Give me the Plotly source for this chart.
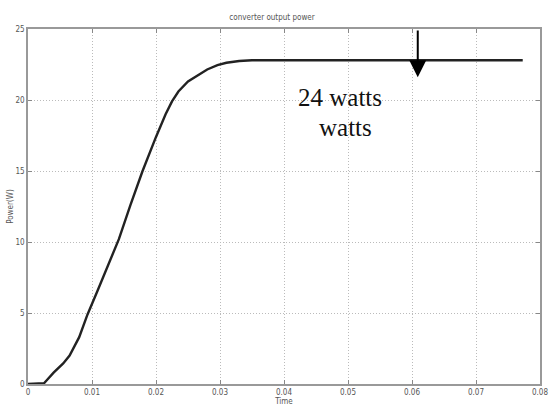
import plotly.graph_objects as go

# Data
time_s = [0, 0.001, 0.002, 0.0025, 0.003, 0.004, 0.0055, 0.0065, 0.008, 0.0093, 0.0108,
          0.0125, 0.0142, 0.016, 0.0179, 0.02, 0.0215, 0.0225, 0.0235, 0.025,
          0.0265, 0.028, 0.0296, 0.031, 0.033, 0.035, 0.04, 0.05, 0.06, 0.07, 0.0773]
power_w = [0, 0, 0, 0.05, 0.3, 0.8, 1.45, 2.0, 3.3, 4.9, 6.5,
           8.3, 10.2, 12.6, 15.0, 17.4, 19.0, 19.9, 20.6, 21.3,
           21.75, 22.15, 22.45, 22.62, 22.75, 22.8, 22.8, 22.8, 22.8, 22.8, 22.8]

x_ticks = [0, 0.01, 0.02, 0.03, 0.04, 0.05, 0.06, 0.07, 0.08]
x_tick_labels = ["0", "0.01", "0.02", "0.03", "0.04", "0.05", "0.06", "0.07", "0.08"]
y_ticks = [0, 5, 10, 15, 20, 25]

arrow_x = 0.0609
arrow_top = 25
arrow_tip = 21.6
label_lines = ["24 watts", "watts"]
label_pos = [(0.0488, 20.15), (0.0496, 18.05)]

small_font = dict(family="Liberation Sans Narrow, DejaVu Sans Condensed, Arial Narrow, sans-serif",
                  size=8, color="#555")

fig = go.Figure()
fig.add_trace(go.Scatter(x=time_s, y=power_w, mode="lines",
                         line=dict(color="#222", width=2.4),
                         showlegend=False, hoverinfo="skip"))

axis_common = dict(showline=True, linecolor="#999", linewidth=1.5, mirror="ticks",
                   ticks="inside", ticklen=4, tickcolor="#888",
                   showgrid=True, gridcolor="#bbbbbb", griddash="1px,2px", gridwidth=1,
                   zeroline=False, tickfont=small_font)

fig.update_xaxes(range=[0, 0.08], tickvals=x_ticks, ticktext=x_tick_labels,
                 ticklabeloverflow="allow",
                 title=dict(text="Time", font=small_font, standoff=2), **axis_common)
fig.update_yaxes(range=[0, 25], tickvals=y_ticks,
                 title=dict(text="Power(W)", font=small_font, standoff=1), **axis_common)

for txt, (tx, ty) in zip(label_lines, label_pos):
    fig.add_annotation(x=tx, y=ty, text=txt, showarrow=False,
                       font=dict(family="Liberation Serif, Times New Roman, serif",
                                 size=25, color="#111"),
                       xanchor="center", yanchor="middle")

fig.add_annotation(x=arrow_x, y=arrow_tip, ax=arrow_x, ay=arrow_top,
                   xref="x", yref="y", axref="x", ayref="y", text="",
                   showarrow=True, arrowhead=2, arrowsize=1.7, arrowwidth=2,
                   arrowcolor="#000")

fig.update_layout(
    width=551, height=414,
    margin=dict(l=28, r=3, t=29, b=30),
    paper_bgcolor="white", plot_bgcolor="white",
    title=dict(text="converter output power", font=small_font,
               x=272 / 551, xanchor="center", y=1 - 17 / 414, yanchor="middle"),
)

fig.write_html("out.html")
